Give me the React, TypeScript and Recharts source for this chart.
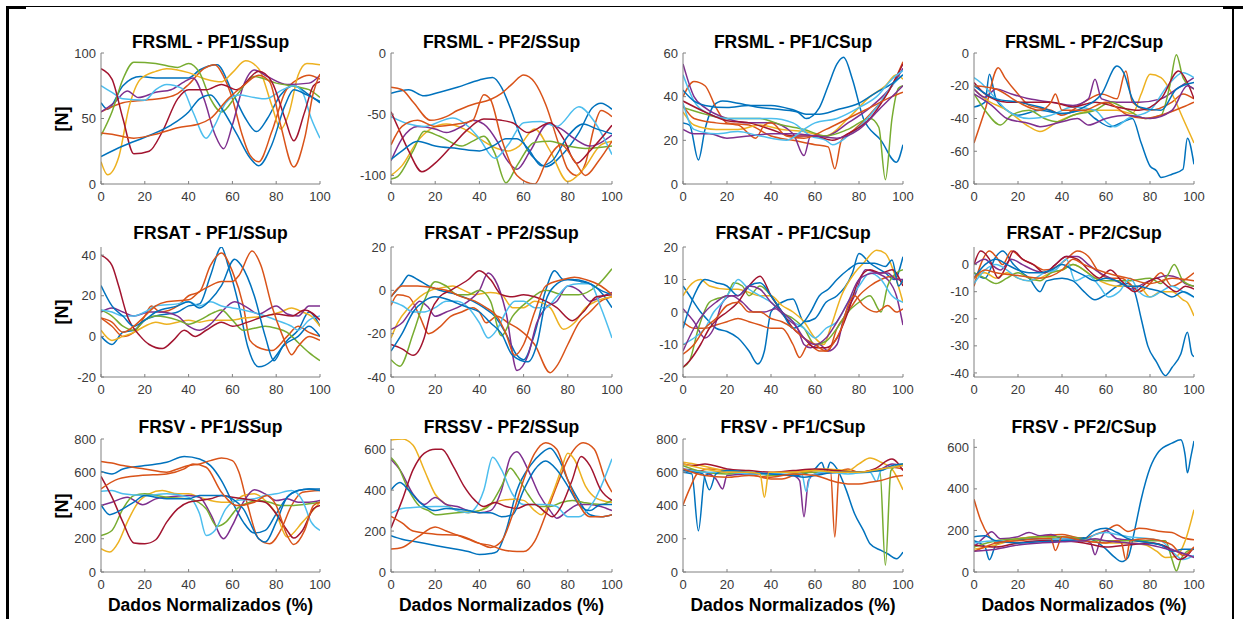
import React from 'react';
import { LineChart, Line, XAxis, YAxis } from 'recharts';

// MATLAB default colour order, addressed by letter
const COLORS: Record<string, string> = {
  B: '#0072BD', O: '#D95319', Y: '#EDB120', P: '#7E2F8E', G: '#77AC30', L: '#4DBEEE', R: '#A2142F',
};

const X_TICKS = [0, 20, 40, 60, 80, 100];

// ---------- Panel 1: FRSML - PF1/SSup ----------
const p1Title = 'FRSML - PF1/SSup';
const p1Domain = [0, 100];
const p1Ticks = [0, 50, 100];
const p1Colors = 'BOYPGLRBO';
const p1Lines: number[][] = [
  [0,62, 3,57, 10,75, 18,82, 25,81, 40,81, 45,87, 53,91, 60,70, 66,50, 71,40, 76,50, 82,68, 88,75, 95,68, 100,62],
  [0,55, 10,62, 20,64, 30,66, 35,69, 40,76, 47,88, 52,91, 56,82, 60,65, 64,40, 68,22, 72,17, 78,40, 84,70, 90,80, 95,83, 100,80],
  [0,17, 3,7, 8,20, 13,60, 18,80, 25,86, 30,88, 40,85, 48,80, 55,78, 60,85, 66,94, 72,88, 78,60, 82,42, 86,55, 90,83, 94,92, 100,91],
  [0,55, 6,62, 12,71, 17,66, 25,70, 32,72, 38,78, 42,81, 47,65, 52,38, 56,27, 60,45, 65,75, 70,87, 76,82, 85,76, 95,77, 100,83],
  [0,37, 5,55, 10,80, 15,93, 25,92, 35,89, 40,92, 45,85, 50,65, 55,55, 62,68, 70,82, 80,77, 90,74, 95,72, 100,66],
  [0,75, 5,70, 10,65, 20,64, 25,72, 30,76, 37,73, 42,55, 48,35, 52,45, 57,62, 63,68, 70,66, 75,65, 83,72, 88,75, 92,70, 96,50, 100,35],
  [0,88, 5,80, 10,50, 15,23, 22,25, 28,40, 35,65, 40,72, 48,72, 55,76, 62,72, 72,86, 78,78, 84,50, 88,33, 93,55, 97,75, 100,78],
  [0,21, 10,29, 22,37, 32,45, 40,55, 45,65, 50,68, 55,58, 62,38, 68,20, 72,14, 78,30, 84,60, 88,72, 94,68, 100,63],
  [0,39, 5,38, 15,35, 25,38, 35,43, 45,46, 50,50, 58,65, 65,75, 72,83, 77,78, 82,45, 88,13, 93,35, 97,70, 100,84],
];

// ---------- Panel 2: FRSML - PF2/SSup ----------
const p2Title = 'FRSML - PF2/SSup';
const p2Domain = [-107, 0];
const p2Ticks = [-100, -50, 0];
const p2Colors = 'BOYPGLRBO';
const p2Lines: number[][] = [
  [0,-33, 8,-30, 15,-35, 22,-32, 30,-28, 40,-22, 46,-20, 50,-28, 54,-45, 58,-65, 62,-80, 66,-88, 70,-93, 78,-82, 85,-65, 91,-45, 95,-41, 100,-46],
  [0,-28, 5,-30, 10,-40, 18,-55, 25,-52, 30,-47, 37,-42, 45,-38, 50,-33, 55,-25, 60,-18, 65,-24, 70,-42, 76,-75, 80,-95, 84,-100, 88,-90, 92,-60, 95,-47, 100,-52],
  [0,-100, 5,-92, 12,-72, 18,-62, 25,-58, 33,-62, 40,-70, 48,-78, 53,-80, 58,-76, 65,-62, 72,-80, 80,-105, 87,-95, 95,-75, 100,-72],
  [0,-88, 5,-70, 12,-60, 20,-62, 25,-65, 32,-60, 37,-55, 42,-58, 48,-72, 52,-86, 57,-95, 63,-80, 71,-58, 77,-62, 83,-70, 90,-76, 100,-67],
  [0,-103, 3,-101, 10,-80, 15,-64, 22,-68, 32,-76, 37,-72, 42,-68, 47,-82, 52,-106, 57,-92, 65,-73, 72,-72, 80,-76, 88,-78, 100,-76],
  [0,-52, 8,-58, 15,-60, 28,-53, 35,-60, 40,-70, 47,-86, 53,-75, 60,-57, 68,-56, 75,-60, 85,-44, 92,-56, 100,-83],
  [0,-48, 3,-60, 8,-80, 14,-97, 20,-90, 28,-75, 35,-62, 42,-54, 50,-55, 55,-57, 62,-65, 72,-57, 78,-70, 84,-90, 90,-80, 100,-59],
  [0,-87, 5,-80, 12,-72, 20,-76, 30,-78, 40,-80, 47,-75, 52,-70, 57,-70, 62,-78, 68,-92, 73,-88, 80,-68, 87,-58, 93,-62, 100,-66],
  [0,-75, 5,-60, 12,-55, 20,-60, 30,-58, 37,-55, 42,-34, 45,-38, 50,-70, 57,-100, 65,-107, 70,-90, 77,-75, 83,-88, 88,-100, 94,-88, 100,-72],
];

// ---------- Panel 3: FRSML - PF1/CSup ----------
const p3Title = 'FRSML - PF1/CSup';
const p3Domain = [0, 60];
const p3Ticks = [0, 20, 40, 60];
const p3Colors = 'BOYPGLRBOPL';
const p3Lines: number[][] = [
  [0,28, 3,27, 7,11, 10,25, 14,36, 18,38, 25,37, 35,35, 45,34, 52,33, 56,30, 62,35, 66,45, 70,55, 73,58, 77,48, 82,30, 90,20, 97,10, 100,18],
  [0,40, 5,47, 10,45, 15,35, 20,28, 30,27, 40,22, 50,20, 60,18, 66,17, 69,7, 72,20, 78,25, 85,32, 95,45, 100,56],
  [0,33, 5,27, 15,25, 25,25, 35,27, 45,25, 55,24, 65,22, 75,30, 85,40, 92,45, 97,50, 100,48],
  [0,55, 5,40, 10,35, 20,30, 30,28, 40,28, 50,23, 55,13, 58,22, 65,22, 75,28, 85,35, 95,45, 100,53],
  [0,35, 10,32, 20,30, 30,30, 35,30, 45,27, 55,25, 65,22, 75,25, 85,30, 89,26, 92,2, 95,30, 98,44, 100,45],
  [0,50, 5,38, 10,33, 20,30, 30,30, 40,30, 50,28, 58,22, 65,20, 68,18, 75,22, 82,28, 88,35, 95,45, 100,50],
  [0,38, 10,33, 20,29, 30,28, 40,25, 50,22, 60,22, 68,20, 75,23, 85,30, 92,40, 100,55],
  [0,43, 5,38, 10,36, 20,35, 30,36, 40,36, 50,34, 56,32, 62,32, 70,34, 80,37, 88,42, 95,46, 100,50],
  [0,36, 5,30, 15,28, 25,27, 33,21, 37,27, 40,28, 47,22, 55,21, 65,25, 75,30, 85,35, 95,40, 100,42],
  [0,25, 5,23, 12,23, 20,21, 30,22, 40,23, 50,23, 60,22, 70,21, 80,25, 90,35, 100,45],
  [0,37, 5,25, 15,23, 25,24, 35,22, 47,20, 55,25, 60,28, 70,30, 80,35, 88,40, 95,48, 100,52],
];

// ---------- Panel 4: FRSML - PF2/CSup ----------
const p4Title = 'FRSML - PF2/CSup';
const p4Domain = [-80, 0];
const p4Ticks = [-80, -60, -40, -20, 0];
const p4Colors = 'BOYPGLRBOP';
const p4Lines: number[][] = [
  [0,-33, 5,-30, 7,-13, 10,-28, 15,-35, 20,-38, 30,-35, 40,-37, 50,-35, 55,-40, 62,-45, 68,-42, 72,-40, 76,-55, 80,-69, 83,-72, 85,-76, 90,-74, 95,-71, 97,-52, 100,-68],
  [0,-55, 5,-35, 11,-9, 14,-15, 20,-25, 25,-32, 35,-35, 40,-38, 50,-30, 58,-25, 65,-28, 69,-11, 72,-30, 80,-35, 90,-30, 95,-25, 100,-28],
  [0,-22, 5,-28, 15,-35, 25,-45, 30,-48, 38,-42, 45,-38, 55,-35, 65,-35, 72,-37, 76,-25, 80,-13, 85,-15, 90,-25, 95,-40, 100,-55],
  [0,-22, 5,-27, 10,-22, 17,-25, 25,-28, 35,-30, 45,-32, 52,-28, 55,-16, 58,-28, 65,-30, 75,-30, 85,-28, 92,-22, 100,-15],
  [0,-25, 5,-35, 12,-44, 17,-38, 25,-35, 32,-40, 38,-42, 45,-38, 55,-35, 62,-30, 70,-35, 78,-40, 85,-38, 89,-20, 92,-1, 95,-15, 100,-22],
  [0,-15, 3,-18, 8,-25, 15,-35, 25,-40, 35,-38, 45,-33, 55,-35, 60,-42, 64,-45, 70,-40, 80,-35, 88,-20, 95,-12, 100,-15],
  [0,-18, 5,-25, 15,-30, 25,-30, 35,-30, 45,-33, 55,-30, 65,-33, 75,-35, 85,-28, 93,-11, 97,-18, 100,-28],
  [0,-20, 10,-28, 20,-30, 30,-33, 40,-37, 50,-33, 58,-25, 65,-8, 68,-12, 72,-28, 75,-33, 85,-35, 92,-22, 100,-18],
  [0,-20, 10,-22, 20,-30, 30,-35, 35,-30, 37,-25, 40,-35, 50,-35, 60,-30, 70,-38, 78,-40, 85,-38, 95,-33, 100,-30],
  [0,-25, 8,-32, 15,-40, 25,-43, 30,-45, 40,-42, 47,-40, 52,-44, 60,-40, 70,-38, 80,-40, 90,-35, 97,-20, 100,-22],
];

// ---------- Panel 5: FRSAT - PF1/SSup ----------
const p5Title = 'FRSAT - PF1/SSup';
const p5Domain = [-20, 44];
const p5Ticks = [-20, 0, 20, 40];
const p5Colors = 'BOYPGLRBO';
const p5Lines: number[][] = [
  [0,0, 5,-4, 10,2, 15,3, 20,8, 25,10, 35,12, 40,15, 45,16, 50,30, 55,44, 58,35, 63,15, 67,-5, 72,-15, 78,-12, 85,-2, 90,3, 95,12, 100,5],
  [0,9, 5,5, 10,0, 15,2, 20,10, 23,15, 27,12, 35,15, 40,20, 45,22, 50,35, 55,41, 60,32, 65,15, 68,-2, 73,-6, 78,-7, 85,0, 90,5, 95,2, 100,0],
  [0,3, 5,-2, 10,0, 15,2, 20,5, 25,7, 30,6, 35,7, 40,8, 45,7, 50,8, 60,8, 65,9, 75,10, 82,12, 87,14, 92,12, 96,10, 100,5],
  [0,12, 5,14, 10,12, 15,10, 22,12, 27,12, 35,10, 40,5, 45,3, 50,6, 55,12, 61,17, 67,14, 72,11, 80,15, 85,11, 90,10, 95,15, 100,15],
  [0,13, 5,10, 10,5, 15,3, 20,8, 25,10, 35,8, 40,6, 45,8, 52,12, 55,13, 60,8, 65,3, 70,4, 75,5, 80,4, 85,2, 90,-3, 95,-8, 100,-12],
  [0,13, 5,12, 10,10, 15,10, 20,12, 25,15, 35,16, 40,17, 45,15, 50,17, 55,15, 60,14, 65,13, 75,10, 80,8, 87,5, 90,3, 95,8, 100,10],
  [0,40, 5,35, 8,25, 12,10, 18,0, 22,-4, 28,-6, 33,-2, 38,3, 43,0, 48,3, 55,7, 60,5, 67,7, 75,10, 80,11, 87,10, 93,13, 100,8],
  [0,25, 5,15, 10,10, 15,5, 20,8, 25,12, 35,15, 40,17, 45,14, 50,18, 55,25, 61,38, 64,35, 70,20, 75,0, 79,-12, 83,-5, 90,0, 95,5, 100,0],
  [0,9, 5,7, 10,2, 15,5, 20,10, 25,15, 30,17, 40,18, 45,22, 50,25, 55,27, 60,27, 63,30, 69,42, 73,35, 78,15, 83,0, 87,-9, 90,-5, 95,0, 100,-2],
];

// ---------- Panel 6: FRSAT - PF2/SSup ----------
const p6Title = 'FRSAT - PF2/SSup';
const p6Domain = [-40, 20];
const p6Ticks = [-40, -20, 0, 20];
const p6Colors = 'BOYPGLRBO';
const p6Lines: number[][] = [
  [0,-3, 5,3, 8,7, 12,5, 17,2, 22,0, 30,-2, 37,-5, 42,-8, 47,-12, 52,-20, 57,-30, 60,-32, 65,-20, 70,0, 74,9, 78,5, 82,5, 88,4, 92,2, 96,-2, 100,-8],
  [0,-7, 3,-2, 8,-3, 13,-12, 17,-20, 22,-17, 27,-12, 32,-10, 37,-8, 40,-10, 43,-15, 48,-12, 53,-15, 58,-18, 65,-25, 72,-38, 75,-35, 80,-25, 85,-15, 90,-10, 95,-5, 100,-3],
  [0,-22, 3,-15, 8,-8, 13,-3, 18,0, 22,1, 28,2, 33,0, 38,-2, 45,-1, 50,-2, 55,-8, 60,-8, 65,-5, 72,-8, 78,-18, 83,-15, 88,-8, 93,-5, 100,-3],
  [0,-18, 5,-15, 10,-8, 13,-5, 17,-8, 20,-12, 25,-10, 30,-8, 35,-5, 40,0, 44,8, 47,5, 52,-10, 57,-37, 62,-30, 66,-15, 70,-8, 75,-5, 80,2, 85,0, 90,-5, 95,-3, 100,-1],
  [0,-32, 4,-35, 10,-20, 15,-5, 20,4, 25,2, 30,-2, 35,-2, 40,0, 45,-5, 50,-21, 55,-12, 62,-5, 70,0, 78,-2, 85,-2, 93,2, 100,10],
  [0,-5, 5,-7, 10,-10, 15,-10, 20,-8, 25,-5, 30,-5, 35,-8, 40,-15, 44,-22, 48,-18, 52,-10, 56,-5, 60,-5, 65,-8, 70,-8, 75,-3, 80,2, 85,3, 90,3, 95,-8, 100,-22],
  [0,-25, 5,-27, 10,-30, 15,-22, 18,-10, 22,-3, 27,0, 35,5, 40,9, 45,5, 50,-2, 55,-3, 60,-2, 65,-3, 70,-5, 75,-8, 82,-14, 87,-10, 93,-3, 100,-2],
  [0,-28, 5,-20, 10,-10, 15,-5, 20,-3, 25,-4, 30,-6, 35,-8, 40,-10, 45,-15, 50,-20, 55,-30, 62,-33, 66,-25, 70,-5, 74,2, 80,5, 86,4, 90,3, 95,0, 100,-2],
  [0,-3, 5,2, 12,2, 20,1, 25,0, 32,-3, 38,-5, 43,-8, 48,-12, 52,-20, 56,-30, 60,-25, 65,-10, 70,2, 78,5, 83,6, 88,5, 95,2, 100,-2],
];

// ---------- Panel 7: FRSAT - PF1/CSup ----------
const p7Title = 'FRSAT - PF1/CSup';
const p7Domain = [-20, 20];
const p7Ticks = [-20, -10, 0, 10, 20];
const p7Colors = 'BOYPGLRBOP';
const p7Lines: number[][] = [
  [0,8, 3,5, 8,0, 12,-3, 15,-5, 20,-6, 25,-8, 30,-12, 34,-16, 37,-12, 40,0, 45,3, 50,4, 55,-3, 60,-2, 65,3, 70,5, 77,12, 80,18, 85,15, 92,12, 96,10, 100,17],
  [0,-3, 5,-5, 10,-5, 15,-4, 20,-3, 25,-2, 30,-3, 35,-4, 40,-5, 45,-5, 50,-10, 53,-14, 57,-10, 62,-12, 66,-12, 70,-5, 75,0, 80,5, 85,8, 90,10, 95,11, 100,9],
  [0,5, 3,8, 8,10, 12,8, 20,7, 25,7, 30,6, 35,5, 40,5, 45,2, 50,0, 55,-3, 60,-8, 64,-10, 67,-5, 72,5, 78,12, 82,15, 88,19, 92,18, 96,12, 100,3],
  [0,1, 5,-3, 10,-8, 14,-5, 18,3, 22,5, 27,3, 32,0, 37,0, 42,1, 47,-2, 52,-5, 55,-10, 58,-11, 62,-10, 66,-12, 70,-10, 73,-2, 78,5, 83,13, 88,12, 93,10, 97,5, 100,-4],
  [0,-17, 3,-15, 7,-5, 12,3, 15,4, 20,5, 23,9, 27,8, 30,5, 35,8, 40,5, 45,0, 50,-2, 55,-5, 60,-10, 65,-9, 70,-5, 75,0, 80,3, 85,5, 90,0, 93,8, 97,12, 100,13],
  [0,-10, 5,-8, 10,-5, 14,0, 18,3, 22,7, 25,10, 30,7, 35,5, 40,3, 45,0, 50,-3, 55,-5, 60,-8, 65,-5, 70,-3, 75,3, 80,8, 85,12, 90,10, 95,5, 100,3],
  [0,-17, 3,-15, 8,-10, 12,-5, 16,-2, 20,0, 25,3, 30,8, 35,11, 40,5, 45,0, 50,-5, 55,-8, 60,-11, 65,-11, 70,-8, 75,0, 80,10, 85,13, 90,12, 95,13, 100,8],
  [0,-5, 5,5, 10,10, 15,9, 20,8, 25,5, 30,8, 35,9, 40,5, 45,0, 50,-5, 55,-3, 58,0, 62,5, 66,7, 70,10, 75,13, 80,15, 87,15, 92,14, 95,16, 98,8, 100,10],
  [0,-13, 5,-10, 10,-5, 15,-2, 20,2, 25,3, 30,0, 35,0, 40,-2, 45,-3, 50,-5, 55,-8, 60,-10, 65,-12, 68,-10, 72,-5, 75,2, 78,5, 82,2, 88,0, 93,2, 97,0, 100,1],
  [0,-12, 5,-5, 10,0, 15,3, 20,5, 25,5, 30,8, 35,7, 40,3, 45,0, 50,-3, 55,-8, 60,-10, 65,-8, 70,-3, 75,3, 80,10, 87,12, 93,12, 97,10, 100,10],
];

// ---------- Panel 8: FRSAT - PF2/CSup ----------
const p8Title = 'FRSAT - PF2/CSup';
const p8Domain = [-41.5, 6.5];
const p8Ticks = [-40, -30, -20, -10, 0];
const p8Colors = 'BOYPGLRBO';
const p8Lines: number[][] = [
  [0,-3, 5,-5, 10,3, 13,5, 18,0, 22,-3, 25,-5, 30,-10, 33,-6, 40,-5, 45,-6, 50,-10, 55,-13, 60,-11, 65,-8, 70,-7, 73,-10, 76,-20, 79,-30, 83,-36, 87,-41, 90,-38, 94,-33, 97,-25, 99,-33, 100,-34],
  [0,-8, 3,0, 7,5, 10,3, 13,0, 17,5, 22,2, 27,0, 32,-2, 37,-1, 42,2, 47,5, 52,3, 57,-3, 62,-5, 67,-5, 72,-8, 75,-10, 80,-7, 85,-3, 90,-8, 95,-6, 100,-3],
  [0,-5, 5,-3, 10,-5, 15,-3, 20,-5, 25,-6, 30,-5, 35,-3, 40,-2, 45,0, 50,-2, 55,-5, 60,-7, 65,-8, 70,-8, 75,-8, 80,-12, 85,-10, 90,-10, 95,-13, 97,-14, 100,-19],
  [0,0, 5,2, 8,0, 12,-2, 17,2, 22,0, 27,-2, 32,-3, 37,0, 42,3, 47,3, 52,0, 57,-3, 62,-5, 67,-7, 72,-9, 77,-7, 83,-5, 88,-4, 93,-5, 96,-7, 100,-8],
  [0,-3, 5,-5, 10,-7, 15,-5, 20,-3, 25,-5, 30,-6, 35,-3, 40,-2, 45,0, 50,-2, 55,-5, 60,-6, 70,-6, 80,-5, 85,-7, 88,-4, 91,0, 95,-6, 100,-8],
  [0,-7, 5,-2, 10,0, 15,-2, 20,-5, 25,-6, 32,-3, 37,-2, 42,2, 46,-6, 52,-4, 57,-8, 61,-12, 66,-10, 71,-5, 75,-10, 80,-12, 85,-10, 90,-8, 95,-10, 100,-12],
  [0,0, 3,5, 7,2, 11,-5, 15,0, 18,5, 22,2, 27,0, 32,-3, 37,0, 42,3, 47,2, 52,-2, 57,-5, 62,-2, 67,-6, 73,-10, 78,-7, 83,-5, 88,-8, 92,-10, 96,-8, 100,-9],
  [0,-5, 5,0, 10,2, 15,0, 20,-2, 25,-3, 30,-3, 35,-2, 40,0, 45,-2, 50,-4, 55,-6, 60,-5, 65,-6, 70,-8, 75,-8, 80,-9, 85,-10, 90,-12, 95,-10, 100,-12],
  [0,-5, 5,-2, 10,-3, 20,-4, 30,-5, 40,-2, 45,2, 50,0, 60,-3, 70,-5, 80,-7, 90,-5, 100,-6],
];

// ---------- Panel 9: FRSV - PF1/SSup ----------
const p9Title = 'FRSV - PF1/SSup';
const p9Domain = [0, 800];
const p9Ticks = [0, 200, 400, 600, 800];
const p9Colors = 'BOYPGLRBO';
const p9Lines: number[][] = [
  [0,605, 5,590, 10,620, 20,640, 30,660, 38,695, 45,680, 50,640, 55,550, 60,420, 65,300, 70,234, 75,250, 80,350, 85,450, 90,490, 95,500, 100,500],
  [0,665, 5,655, 10,640, 20,620, 30,600, 35,620, 40,640, 45,650, 50,670, 55,685, 60,670, 63,600, 67,400, 72,200, 77,170, 82,250, 87,400, 92,480, 100,490],
  [0,140, 4,120, 8,180, 12,300, 17,420, 22,470, 28,490, 35,470, 40,470, 45,450, 50,430, 55,420, 60,420, 65,460, 70,470, 75,430, 80,350, 85,210, 92,300, 100,420],
  [0,400, 5,420, 12,450, 19,405, 25,440, 30,450, 40,460, 45,450, 50,350, 56,200, 60,280, 65,420, 70,495, 75,470, 80,430, 85,440, 90,420, 95,420, 100,430],
  [0,220, 5,250, 10,380, 15,460, 20,470, 25,460, 30,450, 40,440, 48,380, 53,275, 57,300, 62,380, 68,420, 72,430, 77,420, 82,400, 88,400, 95,410, 100,420],
  [0,485, 5,490, 10,470, 20,460, 30,470, 40,450, 45,350, 48,220, 52,250, 57,380, 62,430, 70,440, 75,460, 80,470, 87,490, 92,430, 96,300, 100,250],
  [0,575, 5,450, 10,300, 15,175, 20,170, 25,194, 30,300, 35,380, 40,420, 45,430, 50,440, 55,460, 60,450, 65,440, 70,430, 75,420, 80,350, 85,250, 88,204, 92,250, 97,380, 100,400],
  [0,405, 4,345, 10,380, 15,420, 20,460, 25,450, 30,440, 40,440, 45,460, 55,460, 60,440, 65,380, 72,200, 75,180, 80,300, 85,450, 90,490, 95,500, 100,490],
  [0,500, 8,560, 18,580, 30,590, 38,620, 42,650, 48,630, 55,480, 62,400, 70,420, 76,460, 80,400, 85,220, 88,165, 93,250, 97,400, 100,420],
];

// ---------- Panel 10: FRSSV - PF2/SSup ----------
const p10Title = 'FRSSV - PF2/SSup';
const p10Domain = [0, 650];
const p10Ticks = [0, 200, 400, 600];
const p10Colors = 'BOYPGLRBO';
const p10Lines: number[][] = [
  [0,177, 5,160, 10,150, 20,130, 25,120, 35,100, 40,85, 45,90, 48,100, 52,200, 57,400, 63,520, 68,580, 72,605, 76,550, 80,450, 85,350, 90,280, 95,270, 100,280],
  [0,112, 5,120, 12,170, 20,220, 25,200, 30,180, 35,160, 40,140, 45,130, 50,110, 57,100, 60,100, 65,150, 70,280, 75,420, 80,550, 87,632, 92,600, 97,450, 100,390],
  [0,645, 5,650, 10,620, 15,500, 20,380, 25,330, 30,300, 35,290, 40,300, 45,330, 50,350, 55,355, 60,350, 65,300, 68,280, 73,380, 77,500, 80,580, 83,550, 88,420, 93,360, 100,340],
  [0,550, 4,500, 10,380, 15,330, 20,364, 25,330, 30,320, 35,300, 40,290, 45,300, 50,400, 54,560, 57,588, 62,500, 67,380, 72,300, 75,263, 80,300, 85,330, 90,330, 95,320, 100,300],
  [0,559, 3,520, 8,400, 13,320, 17,300, 20,280, 30,290, 40,300, 45,330, 50,420, 54,507, 57,470, 62,380, 67,320, 72,320, 77,340, 82,350, 87,340, 95,330, 100,350],
  [0,288, 5,310, 10,315, 20,320, 25,320, 30,300, 35,290, 38,310, 42,400, 46,561, 50,500, 55,380, 60,330, 70,330, 75,320, 80,270, 85,270, 92,350, 100,553],
  [0,215, 5,350, 10,500, 15,580, 20,600, 23,600, 28,520, 33,420, 38,350, 42,320, 47,340, 52,320, 57,310, 62,330, 65,330, 70,290, 73,270, 77,320, 82,450, 86,564, 90,520, 95,400, 100,350],
  [0,401, 4,437, 8,400, 13,340, 20,300, 25,310, 35,300, 40,290, 45,290, 50,270, 55,280, 60,400, 65,500, 70,543, 75,500, 80,420, 85,330, 90,300, 95,330, 100,330],
  [0,272, 5,240, 10,200, 20,185, 30,180, 40,140, 45,120, 50,150, 55,280, 60,450, 65,580, 70,632, 75,600, 80,450, 85,330, 90,270, 95,270, 100,280],
];

// ---------- Panel 11: FRSV - PF1/CSup ----------
const p11Title = 'FRSV - PF1/CSup';
const p11Domain = [0, 800];
const p11Ticks = [0, 200, 400, 600, 800];
const p11Colors = 'BOYPGLRBOY';
const p11Lines: number[][] = [
  [0,600, 4,590, 7,248, 10,580, 15,600, 20,600, 30,590, 40,590, 50,580, 55,590, 60,620, 63,659, 65,600, 67,660, 70,620, 74,500, 78,350, 82,250, 85,170, 90,130, 93,110, 97,80, 100,120],
  [0,403, 3,500, 7,600, 12,620, 20,610, 30,590, 40,560, 45,560, 50,580, 55,600, 60,610, 67,615, 69,211, 71,600, 75,620, 80,600, 90,620, 95,630, 100,620],
  [0,660, 5,650, 15,620, 25,600, 35,590, 45,600, 55,610, 65,620, 75,610, 80,650, 85,685, 90,660, 95,620, 100,494],
  [0,620, 10,600, 15,560, 18,500, 20,580, 30,590, 40,590, 50,580, 53,550, 55,332, 57,550, 60,590, 70,600, 80,600, 90,620, 95,650, 100,640],
  [0,640, 10,600, 20,590, 30,600, 40,580, 50,590, 60,600, 70,600, 80,600, 89.5,610, 92,40, 94.5,610, 97,640, 100,650],
  [0,620, 10,600, 20,600, 30,590, 40,590, 50,600, 54,590, 56,484, 58,580, 65,600, 75,590, 85,600, 88,544, 90,610, 100,640],
  [0,650, 5,640, 10,650, 20,620, 30,610, 40,600, 50,610, 60,620, 70,610, 80,600, 87,620, 95,679, 100,610],
  [0,610, 5,600, 9,590, 12,494, 15,590, 20,610, 30,600, 40,590, 50,580, 55,570, 60,580, 70,600, 80,600, 90,610, 95,640, 100,650],
  [0,620, 10,580, 20,570, 30,580, 40,570, 50,590, 60,580, 70,540, 75,530, 80,530, 85,540, 90,550, 95,570, 100,580],
  [0,650, 10,620, 20,600, 30,600, 35,590, 37,449, 39,600, 50,600, 60,610, 70,600, 80,600, 90,620, 100,640],
];

// ---------- Panel 12: FRSV - PF2/CSup ----------
const p12Title = 'FRSV - PF2/CSup';
const p12Domain = [0, 640];
const p12Ticks = [0, 200, 400, 600];
const p12Colors = 'BOYPGLRBOP';
const p12Lines: number[][] = [
  [0,150, 5,120, 7,59, 10,130, 15,150, 20,155, 30,160, 40,160, 50,165, 55,150, 60,110, 64,70, 67,50, 70,70, 73,200, 76,350, 80,500, 84,580, 90,620, 94,636, 96,560, 97,477, 98.5,550, 100,630],
  [0,350, 3,250, 7,170, 10,140, 15,150, 20,160, 30,170, 40,180, 45,170, 50,160, 55,180, 60,200, 65,226, 70,195, 75,210, 80,205, 85,195, 90,190, 95,165, 100,155],
  [0,110, 10,130, 20,160, 30,170, 40,160, 50,150, 60,140, 70,140, 78,130, 83,100, 87,70, 92,75, 96,150, 100,300],
  [0,120, 5,170, 8,194, 12,160, 20,170, 25,190, 30,175, 35,180, 40,160, 50,150, 53,140, 55,83, 57,140, 60,200, 65,160, 75,150, 85,130, 92,100, 97,80, 100,75],
  [0,120, 10,150, 20,160, 30,170, 40,170, 50,160, 60,150, 70,150, 80,150, 87,150, 90,60, 92,5, 94,60, 97,100, 100,110],
  [0,140, 10,150, 20,140, 30,150, 40,160, 50,150, 55,180, 60,190, 65,180, 70,170, 80,160, 85,150, 90,100, 95,60, 100,80],
  [0,130, 10,120, 20,140, 30,150, 40,150, 50,140, 60,120, 70,130, 80,140, 88,120, 93,60, 97,80, 100,120],
  [0,170, 5,175, 10,150, 20,140, 30,145, 40,150, 50,160, 55,200, 60,210, 65,190, 70,160, 80,140, 85,130, 90,100, 95,110, 100,110],
  [0,100, 5,120, 10,140, 20,150, 30,160, 35,160, 37,103, 40,170, 50,150, 60,140, 65,150, 67,140, 69,59, 71,150, 78,160, 85,150, 90,130, 95,80, 100,120],
  [0,100, 10,110, 20,130, 30,140, 40,145, 50,150, 55,160, 60,150, 70,140, 80,130, 88,110, 95,90, 100,70],
];

const X_LABEL = 'Dados Normalizados (%)';
const Y_LABEL = '[N]';

// ---------------- layout ----------------
const FONT = "'Liberation Sans', Arial, Helvetica, sans-serif";
const COLS = [
  { left: 101, w: 219 },
  { left: 391, w: 221 },
  { left: 683, w: 220 },
  { left: 974, w: 220 },
];
const ROWS = [
  { top: 53, h: 131, titleY: 42 },
  { top: 247, h: 130, titleY: 233 },
  { top: 439, h: 133, titleY: 427 },
];

type PanelDef = { title: string; domain: number[]; ticks: number[]; colors: string; lines: number[][] };
const PANELS: PanelDef[] = [
  { title: p1Title, domain: p1Domain, ticks: p1Ticks, colors: p1Colors, lines: p1Lines },
  { title: p2Title, domain: p2Domain, ticks: p2Ticks, colors: p2Colors, lines: p2Lines },
  { title: p3Title, domain: p3Domain, ticks: p3Ticks, colors: p3Colors, lines: p3Lines },
  { title: p4Title, domain: p4Domain, ticks: p4Ticks, colors: p4Colors, lines: p4Lines },
  { title: p5Title, domain: p5Domain, ticks: p5Ticks, colors: p5Colors, lines: p5Lines },
  { title: p6Title, domain: p6Domain, ticks: p6Ticks, colors: p6Colors, lines: p6Lines },
  { title: p7Title, domain: p7Domain, ticks: p7Ticks, colors: p7Colors, lines: p7Lines },
  { title: p8Title, domain: p8Domain, ticks: p8Ticks, colors: p8Colors, lines: p8Lines },
  { title: p9Title, domain: p9Domain, ticks: p9Ticks, colors: p9Colors, lines: p9Lines },
  { title: p10Title, domain: p10Domain, ticks: p10Ticks, colors: p10Colors, lines: p10Lines },
  { title: p11Title, domain: p11Domain, ticks: p11Ticks, colors: p11Colors, lines: p11Lines },
  { title: p12Title, domain: p12Domain, ticks: p12Ticks, colors: p12Colors, lines: p12Lines },
];

const toPoints = (flat: number[]) => {
  const pts: { x: number; y: number }[] = [];
  for (let i = 0; i < flat.length; i += 2) pts.push({ x: flat[i], y: flat[i + 1] });
  return pts;
};

const ML = 45, MT = 10, MR = 15, XH = 28;
const tickStyle = { fontSize: 13, fill: '#3a3a3a', fontFamily: FONT };

function Panel({ def, col, row }: { def: PanelDef; col: number; row: number }) {
  const c = COLS[col];
  const r = ROWS[row];
  const series = def.lines.map(toPoints);
  return (
    <>
      <div
        style={{
          position: 'absolute', left: c.left - 40, top: r.titleY - 11, width: c.w + 80, height: 22,
          lineHeight: '22px', textAlign: 'center', fontFamily: FONT, fontWeight: 'bold', fontSize: 17.5, color: '#000',
          whiteSpace: 'nowrap',
        }}
      >
        {def.title}
      </div>
      <div style={{ position: 'absolute', left: c.left - ML, top: r.top - MT }}>
        <LineChart width={c.w + ML + MR} height={r.h + MT + XH} margin={{ top: MT, right: MR, left: 0, bottom: 0 }}>
          <XAxis
            type="number" dataKey="x" domain={[0, 100]} ticks={X_TICKS} height={XH}
            allowDataOverflow interval={0}
            stroke="#808080" tickSize={-3} tickMargin={11} tick={tickStyle}
            tickLine={{ stroke: '#808080' }}
          />
          <YAxis
            type="number" domain={def.domain} ticks={def.ticks} width={ML}
            allowDataOverflow interval={0}
            stroke="#808080" tickSize={-3} tickMargin={8} tick={tickStyle}
            tickLine={{ stroke: '#808080' }}
          />
          {series.map((d, i) => (
            <Line
              key={i} data={d} dataKey="y" type="monotone"
              stroke={COLORS[def.colors[i]]} strokeWidth={1.5} dot={false}
              isAnimationActive={false}
            />
          ))}
        </LineChart>
      </div>
    </>
  );
}

export default function App() {
  return (
    <div
      style={{
        position: 'absolute', left: 0, top: 0, width: 1243, height: 619, background: '#fff', overflow: 'hidden',
        fontFamily: FONT,
      }}
    >
      {/* frame */}
      <div style={{ position: 'absolute', left: 7, top: 6, width: 1218, height: 1, background: '#000' }} />
      <div style={{ position: 'absolute', left: 6, top: 6, width: 20, height: 3, background: '#000' }} />
      <div style={{ position: 'absolute', left: 6, top: 6, width: 3, height: 613, background: '#000' }} />
      <div style={{ position: 'absolute', left: 1223, top: 6, width: 20, height: 3, background: '#000' }} />
      <div style={{ position: 'absolute', left: 1232, top: 6, width: 2, height: 613, background: '#000' }} />

      {PANELS.map((def, i) => (
        <Panel key={i} def={def} col={i % 4} row={Math.floor(i / 4)} />
      ))}

      {ROWS.map((r, i) => (
        <div
          key={'yl' + i}
          style={{
            position: 'absolute', left: 62 - 20, top: r.top + r.h / 2 - 11, width: 40, height: 22, lineHeight: '22px',
            textAlign: 'center', fontWeight: 'bold', fontSize: 18, color: '#000', transform: 'rotate(-90deg)',
          }}
        >
          {Y_LABEL}
        </div>
      ))}

      {COLS.map((c, i) => (
        <div
          key={'xl' + i}
          style={{
            position: 'absolute', left: c.left - 40, top: 605 - 11, width: c.w + 80, height: 22, lineHeight: '22px',
            textAlign: 'center', fontWeight: 'bold', fontSize: 17.5, color: '#000', whiteSpace: 'nowrap',
          }}
        >
          {X_LABEL}
        </div>
      ))}
    </div>
  );
}
